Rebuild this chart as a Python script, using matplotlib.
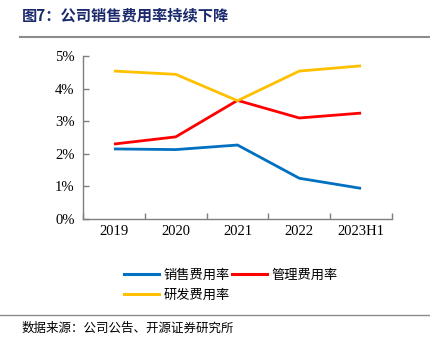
import matplotlib.pyplot as plt
from matplotlib.lines import Line2D

plt.rcParams['font.family'] = ['Liberation Serif', 'Noto Sans CJK SC', 'DejaVu Sans']

years = ['2019', '2020', '2021', '2022', '2023H1']
sales = [2.15, 2.13, 2.27, 1.25, 0.94]
admin = [2.30, 2.52, 3.64, 3.10, 3.25]
rnd = [4.54, 4.44, 3.63, 4.54, 4.70]
names = ['销售费用率', '管理费用率', '研发费用率']
colors = ['#0070C0', '#FF0000', '#FFC000']

fig = plt.figure(figsize=(4.31, 3.44), dpi=100)
ax = fig.add_axes([0.1926, 0.3634, 0.7169, 0.4736])

x = list(range(len(years)))
for vals, c, n in zip([sales, admin, rnd], colors, names):
    ax.plot(x, vals, color=c, lw=2, label=n, solid_capstyle='butt')

ax.set_xlim(-0.5, len(years) - 0.5)
ax.set_ylim(0, 5)
ax.set_yticks([0, 1, 2, 3, 4, 5])
ax.set_yticklabels([f'{v}%' for v in range(6)], fontsize=10.5, family='Liberation Serif')
ax.set_xticks([i - 0.5 for i in range(len(years) + 1)])
ax.set_xticklabels([])
for i, yr in enumerate(years):
    ax.text(i, -0.38, yr, ha='center', va='center', fontsize=10.5, family='Liberation Serif',
            transform=ax.transData)
ax.tick_params(axis='both', direction='in', length=4, color='#7f7f7f', width=1)
ax.tick_params(axis='y', pad=6)
for s in ['top', 'right']:
    ax.spines[s].set_visible(False)
for s in ['left', 'bottom']:
    ax.spines[s].set_color('#7f7f7f')
    ax.spines[s].set_linewidth(1)

# column-first fill: sales / rnd in col 1, admin in col 2
order = [0, 2, 1]
handles = [Line2D([0], [0], color=colors[i], lw=2.2) for i in order]
labels = [names[i] for i in order]
fig.legend(handles, labels, loc='upper left', bbox_to_anchor=(0.272, 0.238),
           bbox_transform=fig.transFigure, ncol=2, frameon=False, borderpad=0,
           prop={'family': 'Noto Sans CJK SC', 'size': 9.5},
           handlelength=2.7, handletextpad=0.3, columnspacing=0.15, labelspacing=0.5)

fig.text(0.05, 0.955, '图7：公司销售费用率持续下降', fontsize=11, fontweight='bold',
         color='#1A2A6C', family='Noto Sans CJK SC', va='center')
fig.add_artist(Line2D([0.046, 1.0], [0.892, 0.892], color='#8c8c8c', lw=1.5,
                      transform=fig.transFigure))
fig.add_artist(Line2D([0.0, 1.0], [0.084, 0.084], color='#8c8c8c', lw=1,
                      transform=fig.transFigure))
fig.text(0.05, 0.045, '数据来源：公司公告、开源证券研究所', fontsize=9,
         family='Noto Sans CJK SC', va='center')

fig.savefig('out.png', dpi=100)
